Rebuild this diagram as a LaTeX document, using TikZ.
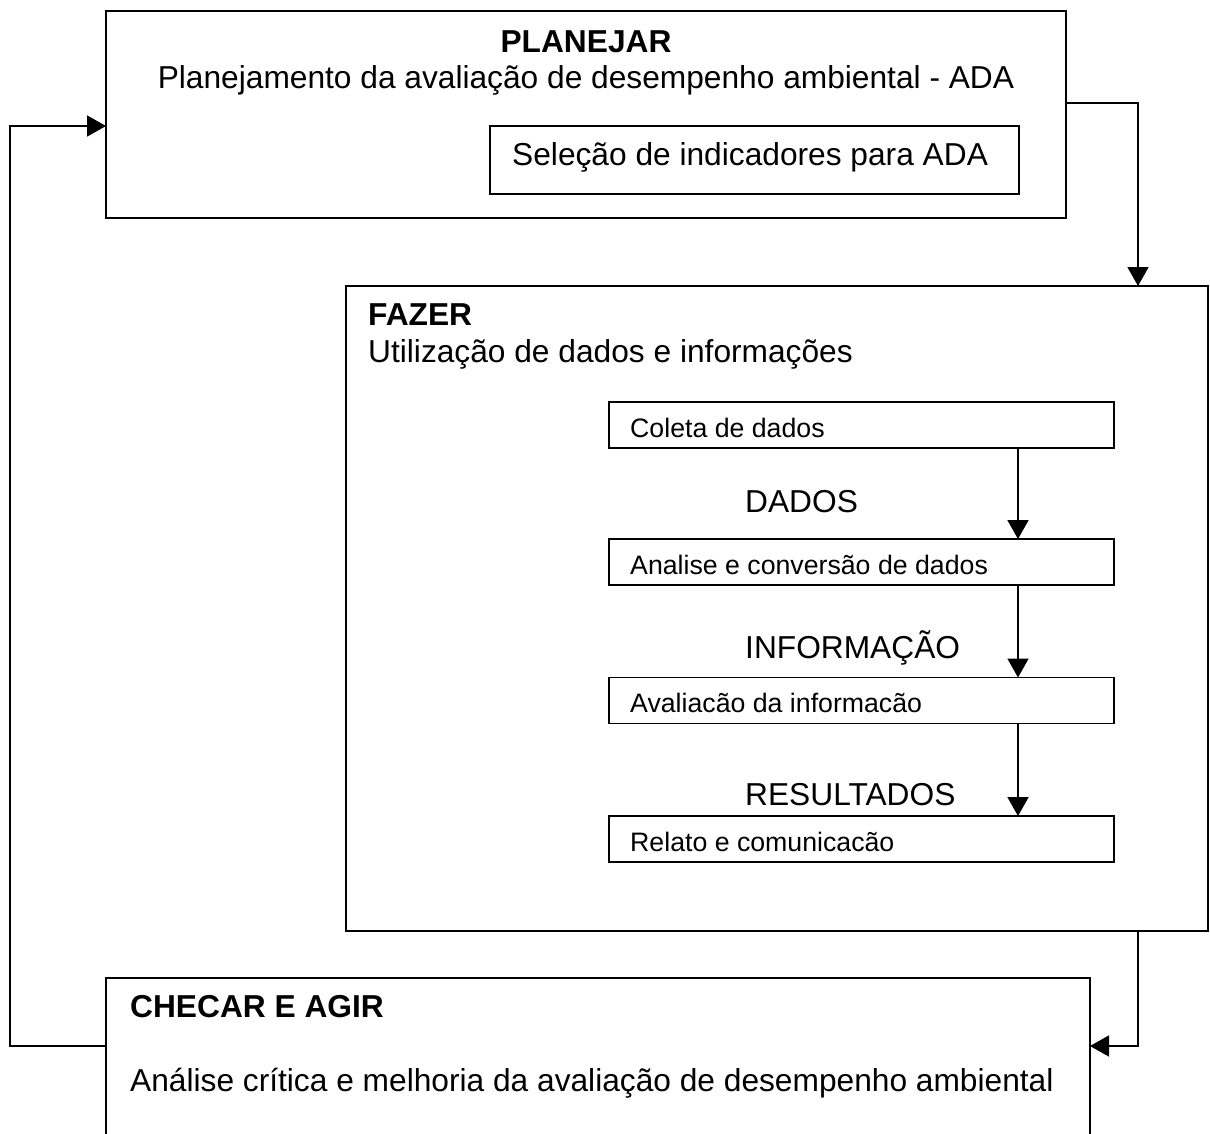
\documentclass[tikz,border=0pt]{standalone}
\usepackage{fontspec}
\setmainfont{Liberation Sans}
\usetikzlibrary{arrows.meta}
\begin{document}
\begin{tikzpicture}[x=1pt,y=-1pt,
  box/.style={draw,line width=1.8pt,inner sep=0pt,outer sep=0pt,rectangle},
  big/.style={font=\fontsize{31.7}{38}\selectfont,inner sep=0pt,anchor=base west},
  small/.style={font=\fontsize{26.7}{32}\selectfont,inner sep=0pt,anchor=base west},
  conn/.style={line width=1.8pt,-{Triangle[length=19pt,width=21pt]}}]
\clip (0,0) rectangle (1210,1133);
\fill[white] (0,0) rectangle (1210,1133);
% boxes
\node[box,minimum width=960pt,minimum height=207pt] (plan) at (586,114.5) {};
\node[box,minimum width=529pt,minimum height=68pt] (sel) at (754.5,160) {};
\node[box,minimum width=862pt,minimum height=645pt] (fazer) at (777,608.5) {};
\node[box,minimum width=505pt,minimum height=46pt] (coleta) at (861.5,425) {};
\node[box,minimum width=505pt,minimum height=46pt] (analise) at (861.5,562) {};
\node[box,minimum width=505pt,minimum height=46pt] (avalia) at (861.5,700.5) {};
\node[box,minimum width=505pt,minimum height=46pt] (relato) at (861.5,839) {};
\node[box,minimum width=984pt,minimum height=182pt] (checar) at (598,1069) {};
% texts
\node[big,anchor=base,font=\fontsize{31.7}{38}\selectfont\bfseries] (tplan) at (586,52) {PLANEJAR};
\node[big,anchor=base] (tplan2) at (586,88) {Planejamento da avaliação de desempenho ambiental - ADA};
\node[big] (tsel) at (512,165) {Seleção de indicadores para ADA};
\node[big,font=\fontsize{31.7}{38}\selectfont\bfseries] (tfaz) at (368,325) {FAZER};
\node[big] (tfaz2) at (368,362) {Utilização de dados e informações};
\node[small] (tcol) at (630,437) {Coleta de dados};
\node[small] (tana) at (630,574) {Analise e conversão de dados};
\node[small] (tava) at (630,712.5) {Avaliacão da informacão};
\node[small] (trel) at (630,851) {Relato e comunicacão};
\node[big] (ldados) at (745,512) {DADOS};
\node[big] (linfo) at (745,658) {INFORMAÇÃO};
\node[big] (lres) at (745,805) {RESULTADOS};
\node[big,font=\fontsize{31.7}{38}\selectfont\bfseries] (tchk) at (130,1017) {CHECAR E AGIR};
\node[big] (tchk2) at (130,1091) {Análise crítica e melhoria da avaliação de desempenho ambiental};
% connector coordinates
\coordinate (c1) at (1138,103);
\coordinate (ax) at (1018,0);
\coordinate (c2) at (1138,1046);
\coordinate (c3) at (10,1046);
\coordinate (c4) at (10,126);
% connectors
\draw[conn] (plan.east |- c1) -| (fazer.north -| c1);
\draw[conn] (coleta.south -| ax) -- (analise.north -| ax);
\draw[conn] (analise.south -| ax) -- (avalia.north -| ax);
\draw[conn] (avalia.south -| ax) -- (relato.north -| ax);
\draw[conn] (fazer.south -| c2) |- (checar.east |- c2);
\draw[conn] (checar.west |- c3) -- (c3) |- (plan.west |- c4);
\end{tikzpicture}
\end{document}
